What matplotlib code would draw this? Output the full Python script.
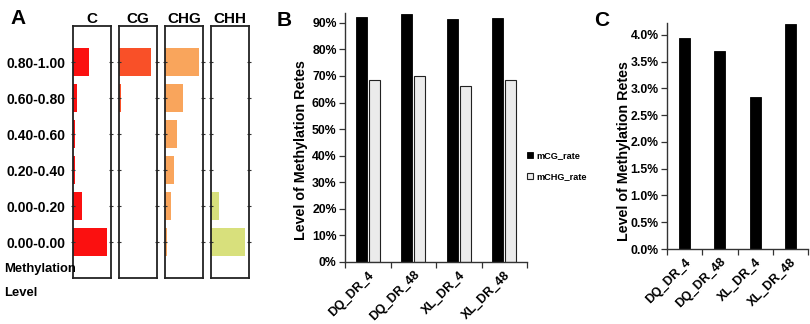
import matplotlib.pyplot as plt
import matplotlib.transforms as mtransforms
import numpy as np

plt.rcParams['font.family'] = ['Liberation Sans', 'DejaVu Sans']
plt.rcParams['font.weight'] = 'bold'

W, H = 810, 324

# Panel A: fraction of sites per methylation level bin
levels = ['0.80-1.00', '0.60-0.80', '0.40-0.60', '0.20-0.40', '0.00-0.20', '0.00-0.00']
contexts = ['C', 'CG', 'CHG', 'CHH']
frac_C = [0.238, 0.060, 0.034, 0.034, 0.129, 0.516]
frac_CG = [0.920, 0.058, 0.004, 0.003, 0.003, 0.002]
frac_CHG = [0.420, 0.224, 0.143, 0.110, 0.074, 0.028]
frac_CHH = [0.0, 0.0, 0.0, 0.0, 0.184, 0.814]
xmax_A = [0.57, 1.10, 0.466, 0.91]
colors_A = ['#fb1010', '#f95028', '#f9a55c', '#d8e07c']

# Panels B and C
samples = ['DQ_DR_4', 'DQ_DR_48', 'XL_DR_4', 'XL_DR_48']
mCG_rate = [0.9205, 0.932, 0.914, 0.917]
mCHG_rate = [0.683, 0.699, 0.663, 0.686]
mCHH_rate = [0.0394, 0.0369, 0.0284, 0.0420]


def rect(left, top, right, bottom):
    return [left / W, 1 - bottom / H, (right - left) / W, (bottom - top) / H]


fig = plt.figure(figsize=(W / 100, H / 100), dpi=100)

# ---- Panel A
a_lefts = [73, 119, 165, 211]
fracs = [frac_C, frac_CG, frac_CHG, frac_CHH]
pos = np.arange(len(levels))
for i, (ctx, vals) in enumerate(zip(contexts, fracs)):
    ax = fig.add_axes(rect(a_lefts[i], 26, a_lefts[i] + 38, 278))
    ax.barh(pos, vals, height=0.8, color=colors_A[i], edgecolor='none')
    ax.set_ylim(6, -1)
    ax.set_xlim(0, xmax_A[i])
    ax.set_xticks([])
    ax.set_yticks(pos)
    ax.tick_params(axis='y', left=True, right=True, direction='inout',
                   length=3.5, width=0.8, color='#333333', labelsize=10, pad=4)
    if i > 0:
        ax.set_yticklabels([])
    else:
        ax.set_yticklabels(levels, fontweight='bold')
    for s in ax.spines.values():
        s.set_linewidth(1.3)
        s.set_color('#222222')
    ax.set_title(ctx, fontsize=11, fontweight='bold', pad=1)

fig.text(4 / W, 1 - 269 / H, 'Methylation', fontsize=9.4, fontweight='bold', va='center')
fig.text(4 / W, 1 - 293 / H, 'Level', fontsize=9.4, fontweight='bold', va='center')
fig.text(10 / W, 1 - 19 / H, 'A', fontsize=15, fontweight='bold', va='center')

shift = mtransforms.ScaledTranslation(5 / 100, -3 / 100, fig.dpi_scale_trans)


def style_bar_axes(ax):
    ax.spines['top'].set_visible(False)
    ax.spines['right'].set_visible(False)
    for s in ['left', 'bottom']:
        ax.spines[s].set_color('#333333')
        ax.spines[s].set_linewidth(1.0)
    n = len(samples)
    ax.set_xlim(-0.5, n - 0.5)
    ax.set_xticks(np.arange(n))
    ax.set_xticklabels(samples, rotation=45, ha='right', rotation_mode='anchor',
                       fontsize=9, fontweight='bold')
    for lab in ax.get_xticklabels():
        lab.set_transform(lab.get_transform() + shift)
    ax.set_xticks(np.arange(n + 1) - 0.5, minor=True)
    ax.tick_params(axis='x', which='major', length=0, pad=5)
    ax.tick_params(axis='x', which='minor', length=4, width=0.9, color='#333333')
    ax.tick_params(axis='y', length=4, width=0.9, color='#333333', labelsize=8.8, pad=2)
    for lab in ax.get_yticklabels():
        lab.set_fontweight('bold')
    ax.set_ylabel('Level of Methylation Retes', fontsize=10.3, fontweight='bold')


# ---- Panel B
axB = fig.add_axes(rect(345, 13, 527, 262))
x = np.arange(len(samples))
b1 = axB.bar(x - 0.14, mCG_rate, width=0.24, color='black', edgecolor='black',
             linewidth=0.6, label='mCG_rate')
b2 = axB.bar(x + 0.14, mCHG_rate, width=0.24, color='#ebebeb', edgecolor='#222222',
             linewidth=0.8, label='mCHG_rate')
axB.set_ylim(0, 0.937)
yb = np.arange(0, 1.0, 0.1)
axB.set_yticks(yb)
axB.set_yticklabels([f'{int(round(v * 100))}%' for v in yb])
style_bar_axes(axB)
axB.yaxis.set_label_coords(-0.205, 0.45)
fig.legend(handles=[b1, b2], labels=['mCG_rate', 'mCHG_rate'], loc='upper left',
           bbox_to_anchor=(527 / W, 1 - 151 / H), frameon=False,
           prop={'size': 6.6, 'weight': 'bold'}, handlelength=0.7, handleheight=0.7,
           handletextpad=0.3, labelspacing=1.3, borderaxespad=0, borderpad=0)
fig.text(277 / W, 1 - 20 / H, 'B', fontsize=15, fontweight='bold', va='center')

# ---- Panel C
axC = fig.add_axes(rect(667, 23, 808, 249))
axC.bar(x, mCHH_rate, width=0.31, color='black', edgecolor='black', linewidth=0.6)
axC.set_ylim(0, 0.0422)
yt = np.arange(0, 0.0401, 0.005)
axC.set_yticks(yt)
axC.set_yticklabels([f'{v * 100:.1f}%' for v in yt])
style_bar_axes(axC)
axC.yaxis.set_label_coords(-0.255, 0.435)
fig.text(594 / W, 1 - 20 / H, 'C', fontsize=15, fontweight='bold', va='center')

fig.savefig('out.png', dpi=100, facecolor='white')
